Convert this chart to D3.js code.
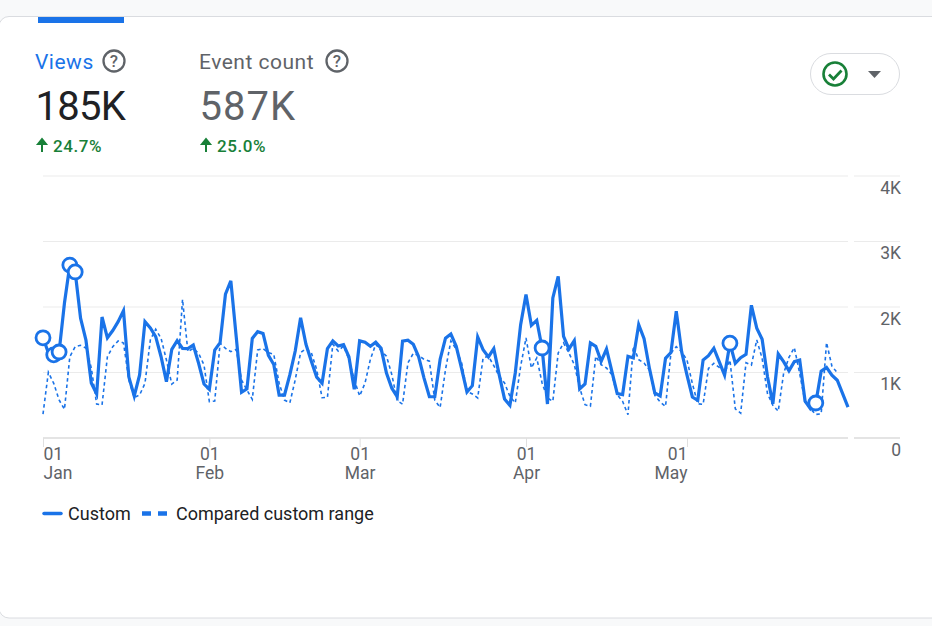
<!DOCTYPE html>
<html>
<head>
<meta charset="utf-8">
<script src="https://cdn.jsdelivr.net/npm/d3@7"></script>
<style>
  html, body { margin: 0; padding: 0; background: #f8f9fa; overflow: hidden; }
  svg { display: block; font-family: Roboto, sans-serif; }
</style>
</head>
<body>
<div id="chart"></div>
<script>
// ***** Data *****
var startDate = "2023-01-01";
var endDate = "2023-05-31";

var customValues = [
  1530, 1300, 1270, 1313, 2060, 2640, 2535, 1830, 1496, 840,
  672, 1847, 1530, 1640, 1776, 1944, 930, 641, 962, 1776,
  1680, 1547, 1241, 860, 1354, 1486, 1369, 1365, 1420, 1140,
  824, 743, 1343, 1455, 2198, 2400, 1547, 698, 750, 1520,
  1623, 1597, 1261, 1122, 656, 656, 967, 1328, 1835, 1431,
  1173, 930, 837, 1365, 1483, 1405, 1426, 1240, 744, 1483,
  1462, 1400, 1462, 1369, 992, 760, 630, 1478, 1493, 1431,
  1240, 915, 630, 630, 1200, 1525, 1587, 1400, 1060, 702,
  799, 1542, 1349, 1237, 1364, 967, 596, 499, 993, 1731,
  2189, 1720, 1797, 1374, 519, 2138, 2469, 1552, 1359, 1486,
  748, 825, 1451, 1400, 1171, 1359, 1018, 677, 662, 1247,
  1222, 1731, 1517, 1062, 687, 641, 1216, 1303, 1934, 1318,
  959, 626, 575, 1190, 1257, 1370, 1165, 959, 1447, 1139,
  1226, 1277, 2026, 1678, 1508, 934, 523, 1283, 1165, 1026,
  1165, 1190, 564, 446, 534, 1021, 1077, 959, 882, 677,
  472
];

var comparedValues = [
  366, 1003, 835, 580, 438, 1241, 1394, 1415, 1374, 1069,
  519, 504, 1241, 1394, 1481, 1450, 885, 621, 656, 835,
  1496, 1660, 1522, 1191, 824, 885, 2117, 1318, 1369, 1293,
  1115, 554, 565, 1446, 1369, 1318, 1354, 885, 733, 590,
  1344, 1365, 1302, 1277, 837, 579, 537, 889, 1302, 1365,
  1302, 1044, 615, 620, 1431, 1328, 1405, 1200, 889, 641,
  837, 1200, 1431, 1328, 1251, 967, 569, 517, 1148, 1292,
  1261, 1200, 1173, 579, 465, 1044, 1483, 1354, 1148, 713,
  672, 611, 1222, 1247, 1105, 942, 840, 636, 534, 1094,
  1527, 1069, 1222, 840, 611, 560, 1298, 1451, 1298, 1120,
  764, 509, 484, 1247, 1120, 1069, 967, 662, 560, 356,
  1400, 1196, 1145, 1036, 651, 549, 482, 1293, 1395, 1318,
  1190, 831, 523, 513, 1062, 1139, 1077, 995, 1190, 446,
  380, 1149, 1113, 1498, 1216, 677, 498, 410, 985, 1231,
  1380, 985, 549, 446, 359, 369, 1457, 1098, 995
];

// days that carry an open circle on the Custom line
var markedDays = [0, 2, 3, 5, 6, 93, 128, 144];

var yTicks = [0, 1000, 2000, 3000, 4000];
var yTickLabels = ["0", "1K", "2K", "3K", "4K"];
var xTickDates = ["2023-01-01", "2023-02-01", "2023-03-01", "2023-04-01", "2023-05-01"];
var xTickDays = ["01", "01", "01", "01", "01"];
var xTickMonths = ["Jan", "Feb", "Mar", "Apr", "May"];

var metricNames = ["Views", "Event count"];
var metricValues = ["185K", "587K"];
var metricChanges = ["24.7%", "25.0%"];
var seriesNames = ["Custom", "Compared custom range"];

// ***** Colours *****
var blue = "#1a73e8";
var grey = "#5f6368";
var green = "#188038";
var gridColor = "#ebebeb";

// ***** Svg *****
var svgWidth = 932;
var svgHeight = 626;

var svg = d3.select("#chart").append("svg")
  .attr("width", svgWidth)
  .attr("height", svgHeight);

// card, runs off the right side of the window
svg.append("rect")
  .attr("x", -1).attr("y", 16.5)
  .attr("width", 960).attr("height", 601.5)
  .attr("rx", 10)
  .attr("fill", "#fff")
  .attr("stroke", "#dadce0");

// active tab bar
svg.append("rect")
  .attr("x", 38).attr("y", 17)
  .attr("width", 86).attr("height", 6)
  .attr("fill", blue);

// ***** Metric headers *****
var metricX = [35, 199];
var helpX = [114, 337];
var valueX = [35.5, 199.5];
var valueSpacing = [-0.7, 1];
var changeX = [36, 200];

metricNames.forEach(function(name, i) {
  svg.append("text")
    .attr("x", metricX[i]).attr("y", 69)
    .attr("font-size", 21)
    .attr("letter-spacing", 0.5)
    .attr("fill", i === 0 ? blue : grey)
    .text(name);

  svg.append("circle")
    .attr("cx", helpX[i]).attr("cy", 61)
    .attr("r", 10.5)
    .attr("fill", "none")
    .attr("stroke", grey)
    .attr("stroke-width", 2.3);

  svg.append("text")
    .attr("x", helpX[i]).attr("y", 67)
    .attr("text-anchor", "middle")
    .attr("font-size", 17)
    .attr("font-weight", 500)
    .attr("fill", grey)
    .text("?");

  svg.append("text")
    .attr("x", valueX[i]).attr("y", 120)
    .attr("font-size", 40)
    .attr("letter-spacing", valueSpacing[i])
    .attr("fill", i === 0 ? "#202124" : grey)
    .text(metricValues[i]);

  // up arrow
  svg.append("path")
    .attr("transform", `translate(${changeX[i] + 6}, 0)`)
    .attr("d", "M0,152V140M-4,144L0,139L4,144Z")
    .attr("fill", green)
    .attr("stroke", green)
    .attr("stroke-width", 2);

  svg.append("text")
    .attr("x", changeX[i] + 17).attr("y", 151.5)
    .attr("font-size", 17)
    .attr("font-weight", 500)
    .attr("letter-spacing", 0.6)
    .attr("fill", green)
    .text(metricChanges[i]);
});

// ***** Status pill *****
svg.append("rect")
  .attr("x", 810.5).attr("y", 53.5)
  .attr("width", 89).attr("height", 41)
  .attr("rx", 20.5)
  .attr("fill", "#fff")
  .attr("stroke", "#dadce0");

svg.append("circle")
  .attr("cx", 835).attr("cy", 74)
  .attr("r", 11.5)
  .attr("fill", "none")
  .attr("stroke", green)
  .attr("stroke-width", 2.6);

svg.append("path")
  .attr("d", "M829,74.5L833.5,79L841.5,70.5")
  .attr("fill", "none")
  .attr("stroke", green)
  .attr("stroke-width", 2.8);

svg.append("path")
  .attr("d", "M868,71H881L874.5,78Z")
  .attr("fill", grey);

// ***** Scales *****
var parseDate = d3.utcParse("%Y-%m-%d");

var xScale = d3.scaleUtc()
  .domain([parseDate(startDate), parseDate(endDate)])
  .range([43, 848]);

var yScale = d3.scaleLinear()
  .domain([0, 4000])
  .range([438, 176]);

function dayToDate(i) {
  return d3.utcDay.offset(parseDate(startDate), i);
}

// ***** Grid, split in two pieces with a gap before the labels *****
var gridGroup = svg.append("g");

[[43, 848], [854, 900]].forEach(function(piece) {
  gridGroup.append("g")
    .selectAll("line")
    .data(yTicks)
    .enter()
    .append("line")
    .attr("x1", piece[0])
    .attr("x2", piece[1])
    .attr("y1", d => yScale(d))
    .attr("y2", d => yScale(d))
    .attr("stroke", d => d === 0 ? "#e4e4e4" : gridColor)
    .attr("stroke-width", d => d === 0 ? 2 : 1);
});

// ***** Axes *****
var yAxis = svg.append("g")
  .attr("transform", "translate(901, 0)")
  .call(d3.axisLeft(yScale)
    .tickValues(yTicks)
    .tickSize(0)
    .tickPadding(0)
    .tickFormat((d, i) => yTickLabels[i]));

yAxis.select(".domain").remove();
yAxis.selectAll("text")
  .attr("dy", 17)
  .attr("font-size", 17.5)
  .attr("font-family", "Roboto, sans-serif")
  .attr("fill", grey);

var xAxis = svg.append("g")
  .attr("transform", "translate(0, 438)")
  .call(d3.axisBottom(xScale)
    .tickValues(xTickDates.map(parseDate))
    .tickSize(9)
    .tickFormat(""));

xAxis.select(".domain").remove();
xAxis.selectAll("line").attr("stroke", "#e0e0e0");

xAxis.selectAll(".tick text")
  .attr("font-size", 17.5)
  .attr("font-family", "Roboto, sans-serif")
  .attr("fill", grey)
  .attr("y", 0)
  .attr("dy", 0)
  .attr("text-anchor", (d, i) => i === 0 ? "start" : i === xTickDates.length - 1 ? "end" : "middle")
  .each(function(d, i) {
    var label = d3.select(this);
    label.append("tspan").attr("x", 0).attr("y", 22).text(xTickDays[i]);
    label.append("tspan").attr("x", 0).attr("y", 41).text(xTickMonths[i]);
  });

// ***** Lines *****
var line = d3.line()
  .x((d, i) => xScale(dayToDate(i)))
  .y(d => yScale(d));

svg.append("path")
  .datum(comparedValues)
  .attr("fill", "none")
  .attr("stroke", blue)
  .attr("stroke-width", 1.6)
  .attr("stroke-dasharray", "3.5,3")
  .attr("d", line);

svg.append("path")
  .datum(customValues)
  .attr("fill", "none")
  .attr("stroke", blue)
  .attr("stroke-width", 3.2)
  .attr("d", line);

svg.append("g")
  .selectAll("circle")
  .data(markedDays)
  .enter()
  .append("circle")
  .attr("cx", d => xScale(dayToDate(d)))
  .attr("cy", d => yScale(customValues[d]))
  .attr("r", 7)
  .attr("fill", "#fff")
  .attr("stroke", blue)
  .attr("stroke-width", 2.8);

// ***** Legend *****
svg.append("line")
  .attr("x1", 44).attr("x2", 61)
  .attr("y1", 513.5).attr("y2", 513.5)
  .attr("stroke", blue)
  .attr("stroke-width", 3.5)
  .attr("stroke-linecap", "round");

svg.append("text")
  .attr("x", 68).attr("y", 520)
  .attr("font-size", 18)
  .attr("fill", "#202124")
  .text(seriesNames[0]);

svg.append("line")
  .attr("x1", 142).attr("x2", 167)
  .attr("y1", 513.5).attr("y2", 513.5)
  .attr("stroke", blue)
  .attr("stroke-width", 4.5)
  .attr("stroke-dasharray", "9,7");

svg.append("text")
  .attr("x", 176).attr("y", 520)
  .attr("font-size", 18)
  .attr("fill", "#202124")
  .text(seriesNames[1]);
</script>
</body>
</html>
